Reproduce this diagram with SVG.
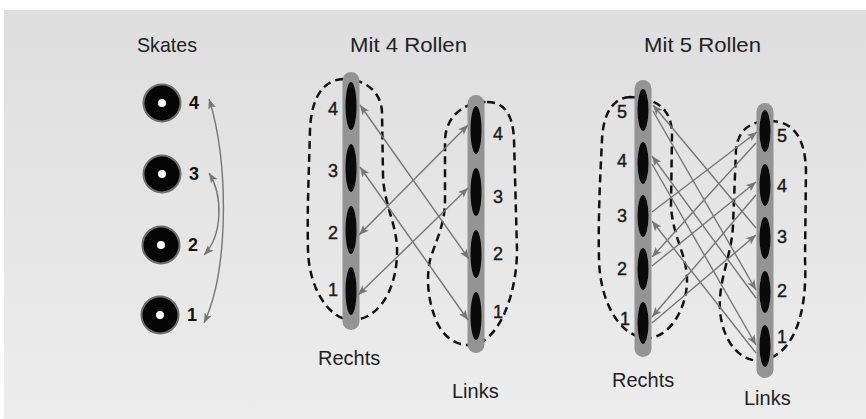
<svg xmlns="http://www.w3.org/2000/svg" width="866" height="419" viewBox="0 0 866 419">
<defs>
<linearGradient id="bg" x1="0" y1="0" x2="0" y2="1">
<stop offset="0" stop-color="#dedede"/>
<stop offset="1" stop-color="#ededed"/>
</linearGradient>
<marker id="ah" viewBox="0 0 10 8" refX="10" refY="4" markerWidth="10" markerHeight="8" markerUnits="userSpaceOnUse" orient="auto-start-reverse">
<path d="M0,0 L10,4 L0,8 L2.5,4 Z" fill="#767676"/>
</marker>
</defs>
<style>
.title{font-family:"Liberation Sans",Arial,sans-serif;font-size:21px;fill:#222}
.side{font-family:"Liberation Sans",Arial,sans-serif;font-size:20px;fill:#222}
.num{font-family:"Liberation Sans",Arial,sans-serif;font-size:18px;fill:#1a1a1a;stroke:#1a1a1a;stroke-width:0.4;text-anchor:middle}
.snum{font-family:"Liberation Sans",Arial,sans-serif;font-size:18px;font-weight:bold;fill:#111;text-anchor:middle}
.bar{fill:#949494}
.roll{fill:#0a0a0a}
.loop{fill:none;stroke:#111;stroke-width:2.5;stroke-dasharray:8 5}
.arr{fill:none;stroke:#767676;stroke-width:1.4;marker-end:url(#ah)}
.dbl{marker-start:url(#ah)}
.wheel{fill:#050505;stroke:#6e6e6e;stroke-width:2}
.hub{fill:#fff}
</style>
<rect width="866" height="419" fill="#fff"/>
<rect x="4" y="10" width="862" height="409" fill="url(#bg)"/>

<text class="title" x="137" y="52" textLength="60" lengthAdjust="spacingAndGlyphs">Skates</text>
<text class="title" x="350" y="52" textLength="117" lengthAdjust="spacingAndGlyphs">Mit 4 Rollen</text>
<text class="title" x="644" y="52" textLength="117" lengthAdjust="spacingAndGlyphs">Mit 5 Rollen</text>

<!-- Skates wheels -->
<g id="skate-4"><circle class="wheel" cx="162" cy="103" r="18.5"/><circle class="hub" cx="162" cy="103" r="4"/><text class="snum" x="194" y="109">4</text></g>
<g id="skate-3"><circle class="wheel" cx="162" cy="174" r="18.5"/><circle class="hub" cx="162" cy="174" r="4"/><text class="snum" x="194" y="180">3</text></g>
<g id="skate-2"><circle class="wheel" cx="161" cy="245" r="18.5"/><circle class="hub" cx="161" cy="245" r="4"/><text class="snum" x="193" y="251">2</text></g>
<g id="skate-1"><circle class="wheel" cx="160" cy="315" r="18.5"/><circle class="hub" cx="160" cy="315" r="4"/><text class="snum" x="192" y="321">1</text></g>

<!-- Mit 4 Rollen: Rechts -->
<g id="m4-rechts">
<path class="loop" d="M 343,79 C 322,80 311,100 310,130 C 309,170 307,210 308,250 C 309,290 330,320 352,320 C 378,320 398,290 397,248 C 396,222 384,205 383,175 L 382,112 C 381,92 366,79 343,79 Z"/>
<rect class="bar" x="342.5" y="72" width="17" height="258" rx="8.5"/>
<ellipse class="roll" cx="351" cy="106" rx="5.5" ry="24"/>
<ellipse class="roll" cx="351" cy="168" rx="5.5" ry="24"/>
<ellipse class="roll" cx="351" cy="230" rx="5.5" ry="24"/>
<ellipse class="roll" cx="351" cy="291" rx="5.5" ry="24"/>
<text class="num" x="333" y="115">4</text>
<text class="num" x="333" y="177">3</text>
<text class="num" x="333" y="239">2</text>
<text class="num" x="333" y="296">1</text>
<text class="side" x="318" y="365">Rechts</text>
</g>

<!-- Mit 4 Rollen: Links -->
<g id="m4-links">
<path class="loop" d="M 487,102 C 505,102 513,115 514,140 L 517,250 C 517,285 505,330 480,343 C 460,350 443,338 436,320 C 428,300 426,280 430,260 C 436,240 445,225 445,200 L 445,140 C 446,115 465,102 487,102 Z"/>
<rect class="bar" x="467.5" y="95" width="17" height="258" rx="8.5"/>
<ellipse class="roll" cx="476" cy="130" rx="5.5" ry="24"/>
<ellipse class="roll" cx="476" cy="192" rx="5.5" ry="24"/>
<ellipse class="roll" cx="476" cy="254" rx="5.5" ry="24"/>
<ellipse class="roll" cx="476" cy="316" rx="5.5" ry="24"/>
<text class="num" x="498" y="140">4</text>
<text class="num" x="498" y="203">3</text>
<text class="num" x="498" y="260">2</text>
<text class="num" x="498" y="318">1</text>
<text class="side" x="452" y="398">Links</text>
</g>

<!-- Mit 5 Rollen: Rechts -->
<g id="m5-rechts">
<path class="loop" d="M 630,97 C 612,98 603,115 602,140 C 600,180 598,220 599,260 C 600,300 618,335 645,338 C 668,340 687,310 687,280 C 687,255 672,235 671,205 L 672,135 C 672,112 660,98 630,97 Z"/>
<rect class="bar" x="634.5" y="80" width="17" height="277" rx="8.5"/>
<ellipse class="roll" cx="643" cy="110" rx="5.5" ry="21"/>
<ellipse class="roll" cx="643" cy="163" rx="5.5" ry="21"/>
<ellipse class="roll" cx="643" cy="216" rx="5.5" ry="21"/>
<ellipse class="roll" cx="643" cy="269" rx="5.5" ry="21"/>
<ellipse class="roll" cx="643" cy="323" rx="5.5" ry="21"/>
<text class="num" x="622" y="118">5</text>
<text class="num" x="622" y="167">4</text>
<text class="num" x="622" y="222">3</text>
<text class="num" x="622" y="275">2</text>
<text class="num" x="625" y="325">1</text>
<text class="side" x="612" y="387">Rechts</text>
</g>

<!-- Mit 5 Rollen: Links -->
<g id="m5-links">
<path class="loop" d="M 770,121 C 795,121 805,140 806,170 L 805,260 C 807,300 800,350 765,360 C 740,365 722,340 720,310 C 718,280 732,255 733,225 L 736,150 C 738,130 750,121 770,121 Z"/>
<rect class="bar" x="756.5" y="103" width="17" height="275" rx="8.5"/>
<ellipse class="roll" cx="765" cy="131" rx="5.5" ry="21"/>
<ellipse class="roll" cx="765" cy="185" rx="5.5" ry="21"/>
<ellipse class="roll" cx="765" cy="238" rx="5.5" ry="21"/>
<ellipse class="roll" cx="765" cy="292" rx="5.5" ry="21"/>
<ellipse class="roll" cx="765" cy="346" rx="5.5" ry="21"/>
<text class="num" x="782" y="142">5</text>
<text class="num" x="782" y="192">4</text>
<text class="num" x="782" y="243">3</text>
<text class="num" x="782" y="297">2</text>
<text class="num" x="782" y="343">1</text>
<text class="side" x="744" y="405">Links</text>
</g>

<g id="connectors">
<!-- Skates -->
<path class="arr dbl" d="M 209,99 C 229,160 229,270 204,323"/>
<path class="arr dbl" d="M 209,173 C 223,195 223,235 204,255"/>
<!-- Mit 4 Rollen -->
<path class="arr dbl" d="M 360,105 L 469,259"/>
<path class="arr dbl" d="M 360,167 L 468,320"/>
<path class="arr dbl" d="M 468,125 L 359,235"/>
<path class="arr dbl" d="M 468,188 L 358,295"/>
<!-- Mit 5 Rollen -->
<path class="arr" d="M 652,212 L 757,132"/>
<path class="arr" d="M 756,143 L 652,257"/>
<path class="arr" d="M 652,266 L 756,182"/>
<path class="arr" d="M 756,195 L 652,317"/>
<path class="arr" d="M 652,323 L 756,235"/>
<path class="arr" d="M 756,228 L 653,105"/>
<path class="arr" d="M 653,111 L 756,290"/>
<path class="arr" d="M 756,298 L 652,156"/>
<path class="arr" d="M 652,164 L 756,345"/>
<path class="arr" d="M 756,353 L 652,221"/>
</g>
</svg>
